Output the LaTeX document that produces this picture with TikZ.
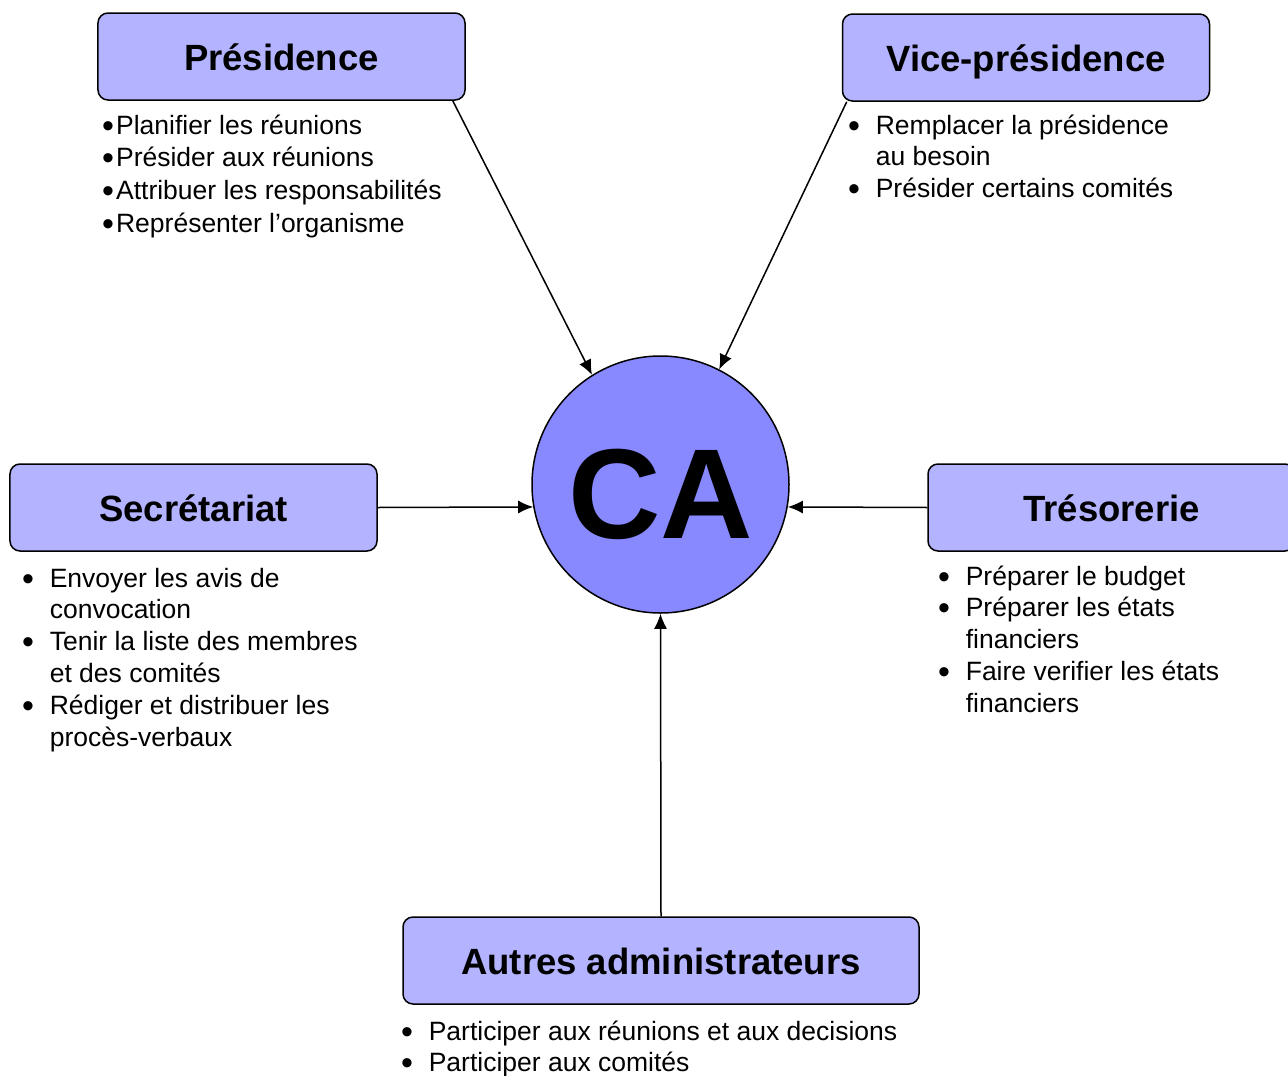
\documentclass[tikz,border=0pt]{standalone}
\usepackage{fontspec}
\setmainfont{Liberation Sans}
\usepackage{tikz}
\usetikzlibrary{arrows.meta}

\definecolor{boite}{HTML}{B3B3FF}
\definecolor{rond}{HTML}{8888FF}

\tikzset{
  role/.style={draw, fill=boite, line width=1.5bp, rounded corners=10bp,
    minimum width=367bp, minimum height=87bp, inner sep=0pt,
    text height=28bp, text depth=0bp,
    font=\fontsize{36.5bp}{40bp}\selectfont\bfseries},
  taches/.style={anchor=base west, inner sep=0pt,
    font=\fontsize{26.5bp}{31.8bp}\selectfont},
  fleche/.style={line width=1.5bp, -{Latex[length=15bp,width=13bp]}}
}

\newcommand{\puce}{\raisebox{-3bp}{\fontsize{34bp}{34bp}\selectfont •}}
\newcommand{\puces}[1]{\begin{tabular}[t]{@{}l@{\hspace{15.7bp}}l@{}}#1\end{tabular}}

\begin{document}
\begin{tikzpicture}[x=1bp, y=-1bp]
            \useasboundingbox (0,0) rectangle (1288,1076);

            \node[role] (pres) at (281.5,56.5) {Présidence};
            \node[role] (vice) at (1026,57.5) {Vice-présidence};
            \node[role] (secr) at (193.5,507.5) {Secrétariat};
            \node[role] (treso) at (1111.5,507.5) {Trésorerie};
            \node[role, minimum width=516bp] (autres) at (661,960.5) {Autres administrateurs};

            \node[circle, draw, fill=rond, line width=1.5bp, minimum size=257bp, inner sep=0pt,
              text height=107bp, text depth=0bp,
              font=\fontsize{128bp}{128bp}\selectfont\bfseries] (ca) at (660.5,484.5) {CA};

            \node[taches, font=\fontsize{26.5bp}{32.7bp}\selectfont] (listePres) at (102,134)
              {\begin{tabular}[t]{@{}l@{}}
                \puce\hspace{2bp}Planifier les réunions\\
                \puce\hspace{2bp}Présider aux réunions\\
                \puce\hspace{2bp}Attribuer les responsabilités\\
                \puce\hspace{2bp}Représenter l’organisme
              \end{tabular}};
            \node[taches] (listeVice) at (848,134)
              {\puces{\puce & Remplacer la présidence\\ & au besoin\\ \puce & Présider certains comités}};
            \node[taches] (listeSecr) at (22,587)
              {\puces{\puce & Envoyer les avis de\\ & convocation\\
                \puce & Tenir la liste des membres\\ & et des comités\\
                \puce & Rédiger et distribuer les\\ & procès-verbaux}};
            \node[taches] (listeTreso) at (938,585)
              {\puces{\puce & Préparer le budget\\ \puce & Préparer les états\\ & financiers\\
                \puce & Faire verifier les états\\ & financiers}};
            \node[taches] (listeAutres) at (401,1040)
              {\puces{\puce & Participer aux réunions et aux decisions\\ \puce & Participer aux comités}};

            \draw[fleche] ([xshift=-13bp]pres.south east) -- (ca.122);
            \draw[fleche] ([xshift=5bp]vice.south west) -- (ca.63);
            \draw[fleche] (secr.east) -- (ca.190);
            \draw[fleche] (treso.west) -- (ca.350);
            \draw[fleche] (autres.north) -- (ca.south);
        \end{tikzpicture}
\end{document}
